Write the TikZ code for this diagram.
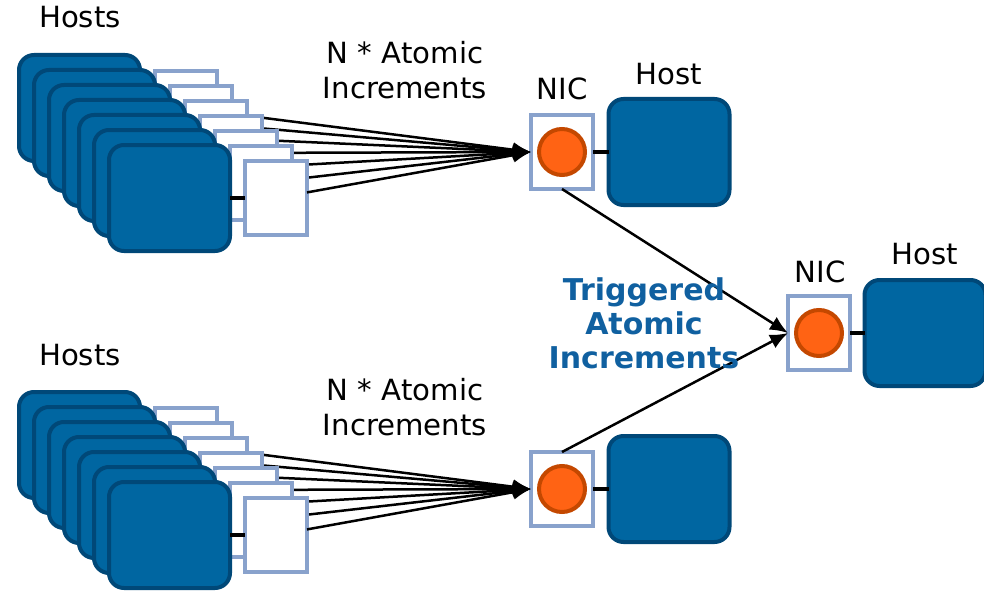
\documentclass[tikz,border=0pt]{standalone}
\usepackage{fontspec}
\setmainfont{DejaVu Sans}
\usetikzlibrary{arrows.meta}

\definecolor{hostfill}{RGB}{0,102,161}
\definecolor{hostedge}{RGB}{0,72,120}
\definecolor{nicedge}{RGB}{137,162,204}
\definecolor{corefill}{RGB}{255,99,20}
\definecolor{coreedge}{RGB}{196,72,0}
\definecolor{trigblue}{RGB}{16,96,160}

\tikzset{
  hostbox/.style={draw=hostedge, fill=hostfill, line width=4pt, rounded corners=15pt,
    minimum width=121pt, minimum height=106pt, inner sep=0pt, outer sep=0pt},
  nicbox/.style={draw=nicedge, fill=white, line width=4pt,
    minimum width=62pt, minimum height=74pt, inner sep=0pt, outer sep=0pt},
  core/.style={circle, draw=coreedge, fill=corefill, line width=4pt,
    minimum size=46pt, inner sep=0pt},
  msg/.style={line width=2.5pt, -{Latex[length=18pt,width=15pt]}},
  link/.style={line width=3.5pt},
  lbl/.style={font=\fontsize{29.2}{35}\selectfont, align=center, inner sep=0pt},
  trig/.style={font=\fontsize{30}{34}\selectfont\bfseries, text=trigblue, align=center, inner sep=0pt},
}

\begin{document}
\begin{tikzpicture}[x=1pt,y=-1pt]
  \useasboundingbox (0,0) rectangle (984,591);

  % receiving NIC and host on the right
  \node[nicbox] (rnic) at (819,333) {};
  \node[core] (rcore) at (rnic.center) {};
  \node[hostbox] (rhost) at (925,333) {};
  \draw[link] (rnic.east) -- (rhost.west);
  \node[lbl, anchor=base] (rniclbl) at (820,282) {NIC};
  \node[lbl, anchor=base] (rhostlbl) at (925,264) {Host};

  % two fan-in groups, the upper one at dy=0 and the lower one at dy=337
  \foreach \g/\dy in {t/0, b/337} {
    \node[nicbox] (\g nic) at (562,152+\dy) {};
    \node[core] (\g core) at (\g nic.center) {};
    \node[hostbox] (\g host) at (669,152+\dy) {};
    \draw[link] (\g nic.east) -- (\g host.west);

    \node[lbl, anchor=base] (\g hosts) at (80,28+\dy) {Hosts};
    \node[lbl] (\g count) at (405,70+\dy) {N * Atomic\\Increments};

    \foreach \k in {1,...,7} {
      \pgfmathsetmacro{\sx}{79.5+15*(\k-1)}
      \pgfmathsetmacro{\sy}{108+15*(\k-1)+\dy}
      \pgfmathsetmacro{\nx}{186+15*(\k-1)}
      \node[nicbox] (\g snic\k) at (\nx,\sy) {};
      \node[hostbox] (\g shost\k) at (\sx,\sy) {};
      \draw[link] (\g shost\k.east) -- (\g snic\k.west);
      \draw[msg] (\g snic\k) -- (\g nic.west);
    }
  }

  % triggered increments forwarded to the right NIC
  \draw[msg] (tnic.south) -- (rnic.west);
  \draw[msg] (bnic.north) -- (rnic.west);

  \node[trig] (triglbl) at (644,323) {Triggered\\Atomic\\Increments};

  \node[lbl, anchor=base] (tniclbl) at (562,100) {NIC};
  \node[lbl, anchor=base] (thostlbl) at (669,85) {Host};
\end{tikzpicture}
\end{document}
